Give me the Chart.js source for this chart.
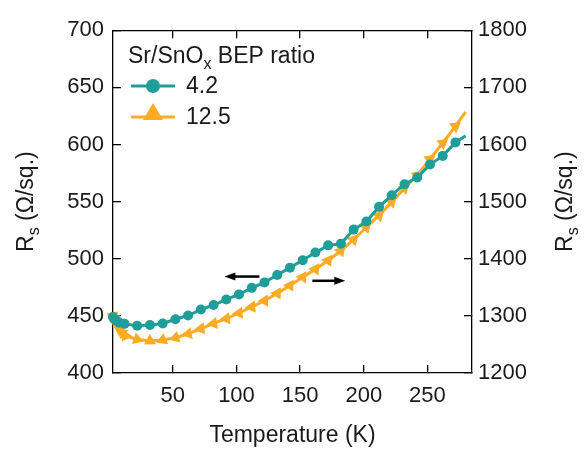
<!DOCTYPE html>
<html>
<head>
<meta charset="utf-8">
<script src="https://cdn.jsdelivr.net/npm/chart.js@4.4.1/dist/chart.umd.min.js"></script>
<style>
html, body { margin: 0; padding: 0; background: #fff; }
</style>
</head>
<body>
<canvas id="rsChart" width="584" height="449"></canvas>
<script>
// Sr/SnOx BEP ratio 4.2 (left axis)
const tempA = [3, 4, 6, 8, 12, 22, 32, 42, 52, 62, 72, 82, 92, 102, 112, 122, 132, 142, 152, 162, 172, 182, 192, 202, 212, 222, 232, 242, 252, 262, 272, 280];
const rsA = [449, 447, 445.5, 444, 443, 441.4, 442, 443.3, 447, 450.3, 455.5, 459.5, 464.4, 468.8, 474.5, 479.3, 485.7, 492.2, 498.6, 505.5, 511.7, 513.1, 525.5, 532.6, 545.4, 555.6, 565.2, 571.1, 582.4, 590, 601.8, 607.7];

// Sr/SnOx BEP ratio 12.5 (right axis)
const tempB = [3, 4, 5, 6, 8, 10, 13, 22, 32, 42, 52, 62, 72, 82, 92, 102, 112, 122, 132, 142, 152, 162, 172, 182, 192, 202, 212, 222, 232, 242, 252, 262, 272, 280];
const rsB = [1300, 1294, 1289, 1284, 1277, 1271, 1265, 1258.8, 1256.3, 1257.9, 1261.8, 1268.6, 1277.4, 1286.7, 1295.1, 1305, 1315.7, 1326.4, 1339.4, 1353, 1367.7, 1381.8, 1397, 1413.9, 1433.6, 1455.1, 1475.8, 1499.5, 1523.6, 1546.3, 1574.3, 1602.5, 1632, 1657];

const xTicks = [50, 100, 150, 200, 250];
const leftTicks = [400, 450, 500, 550, 600, 650, 700];
const rightTicks = [1200, 1300, 1400, 1500, 1600, 1700, 1800];

const teal = '#1f9d98';
const orange = '#fbab24';
const ink = '#1a1a1a';
const fontFam = '"Liberation Sans", Arial, Helvetica, sans-serif';

// arrows pointing at the axis each curve belongs to (data coords, left scale)
const arrows = [
  { from: [118, 484.4], to: [90.5, 484.4] },
  { from: [159.6, 480.7], to: [185.5, 480.7] }
];

function drawParts(ctx, parts, x, y, size) {
  for (const p of parts) {
    ctx.font = (p.sub ? Math.round(size * 0.68) : size) + 'px ' + fontFam;
    ctx.fillText(p.t, x, y + (p.sub ? size * 0.24 : 0));
    x += ctx.measureText(p.t).width;
  }
  return x;
}
function partsWidth(ctx, parts, size) {
  let w = 0;
  for (const p of parts) {
    ctx.font = (p.sub ? Math.round(size * 0.68) : size) + 'px ' + fontFam;
    w += ctx.measureText(p.t).width;
  }
  return w;
}

const rsTitle = [{ t: 'R' }, { t: 's', sub: true }, { t: ' (Ω/sq.)' }];

const decor = {
  id: 'decor',
  afterDraw(chart) {
    const { ctx, chartArea: a, scales } = chart;
    ctx.save();
    ctx.fillStyle = ink;
    ctx.textBaseline = 'alphabetic';

    // axis titles
    ctx.font = '23px ' + fontFam;
    ctx.textAlign = 'center';
    ctx.fillText('Temperature (K)', (a.left + a.right) / 2, 442);
    ctx.textAlign = 'left';
    const tw = partsWidth(ctx, rsTitle, 23);
    const cy = (a.top + a.bottom) / 2;
    for (const bx of [33, 572]) {
      ctx.save();
      ctx.translate(bx, cy);
      ctx.rotate(-Math.PI / 2);
      drawParts(ctx, rsTitle, -tw / 2, 0, 23);
      ctx.restore();
    }

    // legend
    drawParts(ctx, [{ t: 'Sr/SnO' }, { t: 'x', sub: true }, { t: ' BEP ratio' }], 128, 63, 23);
    ctx.lineWidth = 3;
    ctx.strokeStyle = teal;
    ctx.beginPath(); ctx.moveTo(131, 86); ctx.lineTo(175, 86); ctx.stroke();
    ctx.fillStyle = teal;
    ctx.beginPath(); ctx.arc(153, 86, 7, 0, Math.PI * 2); ctx.fill();
    ctx.strokeStyle = orange;
    ctx.beginPath(); ctx.moveTo(131, 117); ctx.lineTo(175, 117); ctx.stroke();
    ctx.fillStyle = orange;
    ctx.beginPath();
    ctx.moveTo(153, 103); ctx.lineTo(163, 120); ctx.lineTo(143, 120); ctx.closePath(); ctx.fill();
    ctx.fillStyle = ink;
    ctx.font = '23px ' + fontFam;
    ctx.textBaseline = 'middle';
    ctx.fillText('4.2', 186, 87);
    ctx.fillText('12.5', 186, 118);

    // arrows
    ctx.strokeStyle = '#000';
    ctx.fillStyle = '#000';
    ctx.lineWidth = 2.5;
    for (const ar of arrows) {
      const x1 = scales.x.getPixelForValue(ar.from[0]);
      const y1 = scales.y.getPixelForValue(ar.from[1]);
      const x2 = scales.x.getPixelForValue(ar.to[0]);
      const y2 = scales.y.getPixelForValue(ar.to[1]);
      const dir = Math.sign(x2 - x1);
      ctx.beginPath(); ctx.moveTo(x1, y1); ctx.lineTo(x2 - dir * 6, y2); ctx.stroke();
      ctx.beginPath();
      ctx.moveTo(x2, y2); ctx.lineTo(x2 - dir * 11, y2 - 4); ctx.lineTo(x2 - dir * 11, y2 + 4);
      ctx.closePath(); ctx.fill();
    }
    ctx.restore();
  }
};

// triangle markers turn with the slope of the curve
function triRotation(c) {
  const chart = c.chart, i = c.dataIndex;
  const sx = chart.scales.x, sy = chart.scales.y2;
  if (!sx || !sy) return 0;
  const i0 = Math.max(0, i - 1), i1 = Math.min(tempB.length - 1, i + 1);
  const dx = sx.getPixelForValue(tempB[i1]) - sx.getPixelForValue(tempB[i0]);
  const dy = sy.getPixelForValue(rsB[i1]) - sy.getPixelForValue(rsB[i0]);
  return -Math.atan2(dy, dx) * 180 / Math.PI;
}

const axisGrid = { drawOnChartArea: false, tickLength: -8, color: '#000', lineWidth: 1.3 };
const axisBorder = { color: '#000', width: 1.3 };
const tickFont = { family: fontFam, size: 22 };
const plain = v => String(v);

new Chart(document.getElementById('rsChart'), {
  type: 'line',
  data: {
    datasets: [
      {
        label: '4.2',
        data: tempA.map((t, i) => ({ x: t, y: rsA[i] })),
        xAxisID: 'x', yAxisID: 'y',
        borderColor: teal, backgroundColor: teal,
        borderWidth: 3, pointBorderWidth: 0,
        pointRadius: c => (c.dataIndex === tempA.length - 1 ? 0 : 5),
        pointStyle: 'circle', clip: false
      },
      {
        label: '12.5',
        data: tempB.map((t, i) => ({ x: t, y: rsB[i] })),
        xAxisID: 'x', yAxisID: 'y2',
        borderColor: orange, backgroundColor: orange,
        borderWidth: 3, pointBorderWidth: 0,
        pointRadius: c => (c.dataIndex === tempB.length - 1 ? 0 : 7),
        pointStyle: 'triangle', pointRotation: triRotation, clip: false
      }
    ]
  },
  options: {
    responsive: false,
    animation: false,
    devicePixelRatio: 1,
    layout: { padding: { top: 18, left: 0, right: 0, bottom: 0 } },
    plugins: { legend: { display: false }, tooltip: { enabled: false } },
    scales: {
      x: {
        type: 'linear', position: 'bottom', min: 3, max: 285,
        grid: axisGrid, border: axisBorder,
        ticks: { font: tickFont, color: ink, padding: 18, maxRotation: 0, callback: plain },
        afterBuildTicks: s => { s.ticks = xTicks.map(v => ({ value: v })); },
        afterFit: s => { s.height = 76; }
      },
      x2: {
        type: 'linear', position: 'top', min: 3, max: 285,
        grid: axisGrid, border: axisBorder,
        ticks: { display: false },
        afterBuildTicks: s => { s.ticks = xTicks.map(v => ({ value: v })); },
        afterFit: s => { s.height = 0; }
      },
      y: {
        type: 'linear', position: 'left', min: 400, max: 700,
        grid: axisGrid, border: axisBorder,
        ticks: { font: tickFont, color: ink, padding: 17, callback: plain },
        afterBuildTicks: s => { s.ticks = leftTicks.map(v => ({ value: v })); },
        afterFit: s => { s.width = 113; }
      },
      y2: {
        type: 'linear', position: 'right', min: 1200, max: 1800,
        grid: axisGrid, border: axisBorder,
        ticks: { font: tickFont, color: ink, padding: 14, callback: plain },
        afterBuildTicks: s => { s.ticks = rightTicks.map(v => ({ value: v })); },
        afterFit: s => { s.width = 112; }
      }
    }
  },
  plugins: [decor]
});
</script>
</body>
</html>
